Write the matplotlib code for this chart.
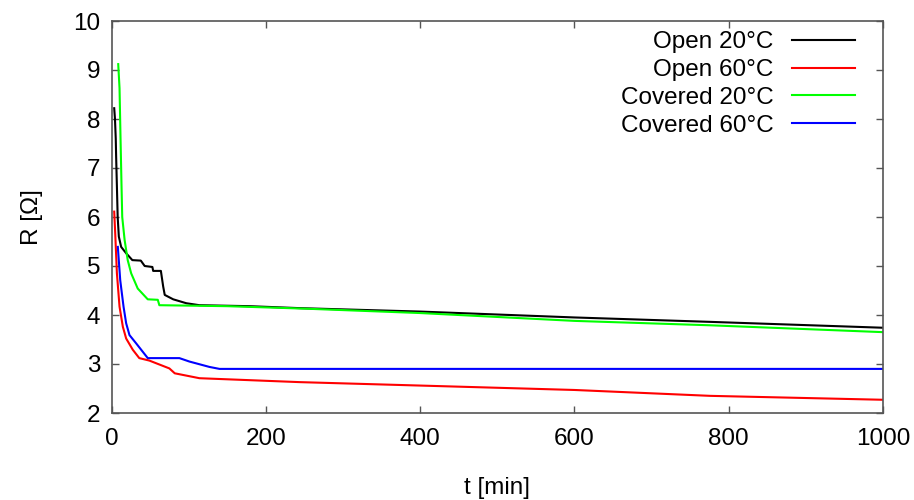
import numpy as np
import matplotlib
matplotlib.use('Agg')
import matplotlib.pyplot as plt
from matplotlib.ticker import MultipleLocator

# values (t in min, R in ohm)
t_open20 = [3.5, 4.5, 5.5, 6, 7, 8, 9.5, 12.5, 19, 27, 38, 43, 53, 54, 64, 67, 69, 80, 97, 114, 179, 244, 400, 600, 776, 1000]
r_open20 = [8.22, 8.0, 7.6, 7.23, 6.62, 6.0, 5.6, 5.39, 5.26, 5.12, 5.11, 5.0, 4.98, 4.9, 4.9, 4.58, 4.41, 4.32, 4.24, 4.2, 4.18, 4.14, 4.07, 3.95, 3.86, 3.74]

t_open60 = [3.5, 4.8, 7, 10.4, 14.7, 19, 27.6, 36, 49, 75, 82, 114, 179, 244, 400, 600, 776, 1000]
r_open60 = [6.11, 5.67, 4.85, 4.17, 3.76, 3.52, 3.29, 3.12, 3.07, 2.91, 2.81, 2.71, 2.67, 2.63, 2.56, 2.47, 2.35, 2.27]

t_cov20 = [8.7, 10.4, 11.7, 13, 13.9, 17, 21, 25.5, 34, 47, 60, 62, 150, 250, 400, 600, 776, 1000]
r_cov20 = [9.12, 8.63, 7.6, 6.62, 6.0, 5.53, 5.12, 4.85, 4.54, 4.32, 4.31, 4.2, 4.18, 4.13, 4.04, 3.88, 3.79, 3.65]

t_cov60 = [8.2, 11.3, 15.6, 19, 23.3, 32, 47, 88, 101, 127, 140, 1000]
r_cov60 = [5.39, 4.71, 4.17, 3.83, 3.59, 3.42, 3.12, 3.12, 3.05, 2.94, 2.9, 2.9]

plt.rcParams['font.family'] = ['Liberation Sans', 'DejaVu Sans']
fsize = 17.5
frame_col = '#555555'

fig = plt.figure(figsize=(9.14, 5.0), dpi=100)
fig.subplots_adjust(left=0.122, right=0.966, top=0.958, bottom=0.174)
ax = fig.add_subplot(111)

lw = 1.5
ax.plot(t_open20, r_open20, color='black', linewidth=lw, label='Open 20\u00b0C')
ax.plot(t_open60, r_open60, color='#ff0000', linewidth=lw, label='Open 60\u00b0C')
ax.plot(t_cov20, r_cov20, color='#00ff00', linewidth=lw, label='Covered 20\u00b0C')
ax.plot(t_cov60, r_cov60, color='#0000ff', linewidth=lw, label='Covered 60\u00b0C')

ax.set_xlim(0, 1000)
ax.set_ylim(2, 10)
ax.xaxis.set_major_locator(MultipleLocator(200))
ax.yaxis.set_major_locator(MultipleLocator(1))

for s in ax.spines.values():
    s.set_color(frame_col)
    s.set_linewidth(1.2)
ax.tick_params(direction='in', length=5, width=1, color=frame_col,
               top=True, right=True, labelsize=fsize)
ax.tick_params(axis='x', pad=11)
ax.tick_params(axis='y', pad=8)

ax.set_xlabel('t [min]', fontsize=fsize, labelpad=19)
ax.set_ylabel('R [\u03a9]', fontsize=fsize, labelpad=22)

leg = ax.legend(loc='upper right', bbox_to_anchor=(0.964, 0.974),
                frameon=False, markerfirst=False,
                fontsize=fsize, handlelength=2.6, handletextpad=0.75,
                labelspacing=0.24, borderaxespad=0, borderpad=0)

fig.savefig('out.png', dpi=100)
